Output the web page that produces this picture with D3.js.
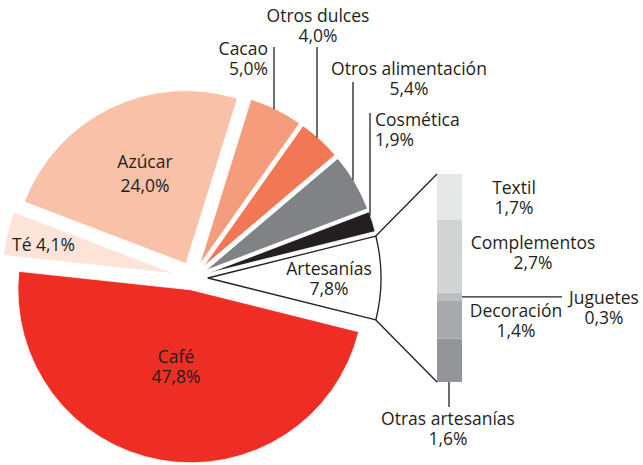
<!DOCTYPE html>
<html lang="es">
<head>
<meta charset="utf-8">
<title>Comercio justo por productos</title>
<script src="https://d3js.org/d3.v7.min.js"></script>
<style>
  body { margin: 0; background: #fff; }
  text { font-family: "Open Sans", sans-serif; font-size: 17.5px; fill: #231f20; }
</style>
</head>
<body>
<script>
// datos del pastel
var categorias = ["Artesanías", "Café", "Té", "Azúcar", "Cacao", "Otros dulces", "Otros alimentación", "Cosmética"];
var valores = [7.8, 47.8, 4.1, 24.0, 5.0, 4.0, 5.4, 1.9];
var etiquetas = ["7,8%", "47,8%", "4,1%", "24,0%", "5,0%", "4,0%", "5,4%", "1,9%"];

// desglose de artesanías (de abajo a arriba)
var artesanias = ["Otras artesanías", "Decoración", "Juguetes", "Complementos", "Textil"];
var valoresArt = [1.6, 1.4, 0.3, 2.7, 1.7];
var etiquetasArt = ["1,6%", "1,4%", "0,3%", "2,7%", "1,7%"];

var colores = ["#ffffff", "#ee2e24", "#fde4d9", "#f9c1a7", "#f59c7c", "#f27754", "#808285", "#231f20"];
var coloresArt = ["#939598", "#a7a9ac", "#bcbec0", "#d1d3d4", "#e6e7e8"];
var tinta = "#231f20";

var w = 643, h = 465;
var cx = 193, cy = 278, r = 173;
var separacion = { "Café": 12, "Té": 18, "Azúcar": 16 };

var svg = d3.select("body").append("svg")
    .attr("width", w)
    .attr("height", h);

// el sector de artesanías queda centrado a la derecha
var a0 = Math.PI / 2 - Math.PI * valores[0] / d3.sum(valores);
var pie = d3.pie().sort(null).startAngle(a0).endAngle(a0 + 2 * Math.PI);
var arc = d3.arc().innerRadius(0).outerRadius(r);

var sectores = pie(valores).map(function(d, i) {
    var mid = (d.startAngle + d.endAngle) / 2;
    var s = separacion[categorias[i]] || 15;
    d.ox = cx + s * Math.sin(mid);
    d.oy = cy - s * Math.cos(mid);
    d.nombre = categorias[i];
    return d;
});

svg.selectAll("path.sector")
    .data(sectores)
    .enter()
    .append("path")
    .attr("class", "sector")
    .attr("transform", function(d) { return "translate(" + d.ox + "," + d.oy + ")"; })
    .attr("d", arc)
    .attr("fill", function(d, i) { return colores[i]; })
    .attr("stroke", function(d, i) { return i === 0 ? tinta : "#fff"; })
    .attr("stroke-width", function(d, i) { return i === 0 ? 1.3 : 0.8; })
    .attr("stroke-linejoin", "round");

// altura del arco de un sector en una x dada
function arcoY(d, x) {
    var dx = x - d.ox;
    return d.oy - Math.sqrt(r * r - dx * dx);
}

// líneas guía de los sectores pequeños
var guias = [
    { i: 4, x: 274, y: 47 },
    { i: 5, x: 317, y: 47 },
    { i: 6, x: 353, y: 82 },
    { i: 7, x: 370, y: 113 }
];
svg.selectAll("line.guia")
    .data(guias)
    .enter()
    .append("line")
    .attr("class", "guia")
    .attr("x1", function(g) { return g.x; })
    .attr("x2", function(g) { return g.x; })
    .attr("y1", function(g) { return g.y; })
    .attr("y2", function(g) { return arcoY(sectores[g.i], g.x) + 1; })
    .attr("stroke", tinta)
    .attr("stroke-width", 1.3);

// barra de artesanías
var barX = 437, barW = 25;
var y = d3.scaleLinear()
    .domain([0, d3.sum(valoresArt)])
    .range([382, 174]);

var acum = 0;
var tramos = valoresArt.map(function(v, i) {
    var t = { nombre: artesanias[i], y0: acum, y1: acum + v, color: coloresArt[i] };
    acum += v;
    return t;
});

svg.selectAll("rect.tramo")
    .data(tramos)
    .enter()
    .append("rect")
    .attr("class", "tramo")
    .attr("x", barX)
    .attr("width", barW)
    .attr("y", function(d) { return y(d.y1); })
    .attr("height", function(d) { return y(d.y0) - y(d.y1); })
    .attr("fill", function(d) { return d.color; });

// conectores del sector de artesanías a la barra
var art = sectores[0];
var esquinas = [
    [art.ox + r * Math.sin(art.startAngle), art.oy - r * Math.cos(art.startAngle), barX, y(acum)],
    [art.ox + r * Math.sin(art.endAngle), art.oy - r * Math.cos(art.endAngle), barX, y(0)]
];
svg.selectAll("line.conector")
    .data(esquinas)
    .enter()
    .append("line")
    .attr("class", "conector")
    .attr("x1", function(d) { return d[0]; })
    .attr("y1", function(d) { return d[1]; })
    .attr("x2", function(d) { return d[2]; })
    .attr("y2", function(d) { return d[3]; })
    .attr("stroke", tinta)
    .attr("stroke-width", 1.3);

// guía de juguetes y de otras artesanías
var jug = tramos[2];
svg.append("line")
    .attr("x1", barX + barW).attr("x2", 562)
    .attr("y1", y((jug.y0 + jug.y1) / 2)).attr("y2", y((jug.y0 + jug.y1) / 2))
    .attr("stroke", tinta).attr("stroke-width", 1.3);
svg.append("line")
    .attr("x1", 449).attr("x2", 449)
    .attr("y1", y(0)).attr("y2", 407)
    .attr("stroke", tinta).attr("stroke-width", 1.3);

// rótulos
var posPie = {
    "Artesanías": { x: 329, y: 275, anchor: "middle" },
    "Café": { x: 176, y: 363, anchor: "middle" },
    "Té": { x: 12, y: 251, anchor: "start", unaLinea: true },
    "Azúcar": { x: 145, y: 168, anchor: "middle", dy: 24 },
    "Cacao": { x: 268, y: 55, anchor: "end" },
    "Otros dulces": { x: 318, y: 22, anchor: "middle" },
    "Otros alimentación": { x: 409, y: 75, anchor: "middle" },
    "Cosmética": { x: 375, y: 126, anchor: "start" }
};
var posArt = {
    "Textil": { x: 514, y: 194, anchor: "middle" },
    "Complementos": { x: 533, y: 249, anchor: "middle" },
    "Juguetes": { x: 604, y: 304, anchor: "middle" },
    "Decoración": { x: 516, y: 317, anchor: "middle" },
    "Otras artesanías": { x: 448, y: 425, anchor: "middle" }
};

function rotulo(nombre, valor, p) {
    var t = svg.append("text")
        .attr("x", p.x)
        .attr("y", p.y)
        .attr("text-anchor", p.anchor);
    if (p.unaLinea) {
        t.text(nombre + " " + valor);
        return;
    }
    t.append("tspan").attr("x", p.x).text(nombre);
    t.append("tspan").attr("x", p.x).attr("dy", p.dy || 20).text(valor);
}

categorias.forEach(function(c, i) { rotulo(c, etiquetas[i], posPie[c]); });
artesanias.forEach(function(c, i) { rotulo(c, etiquetasArt[i], posArt[c]); });
</script>
</body>
</html>
